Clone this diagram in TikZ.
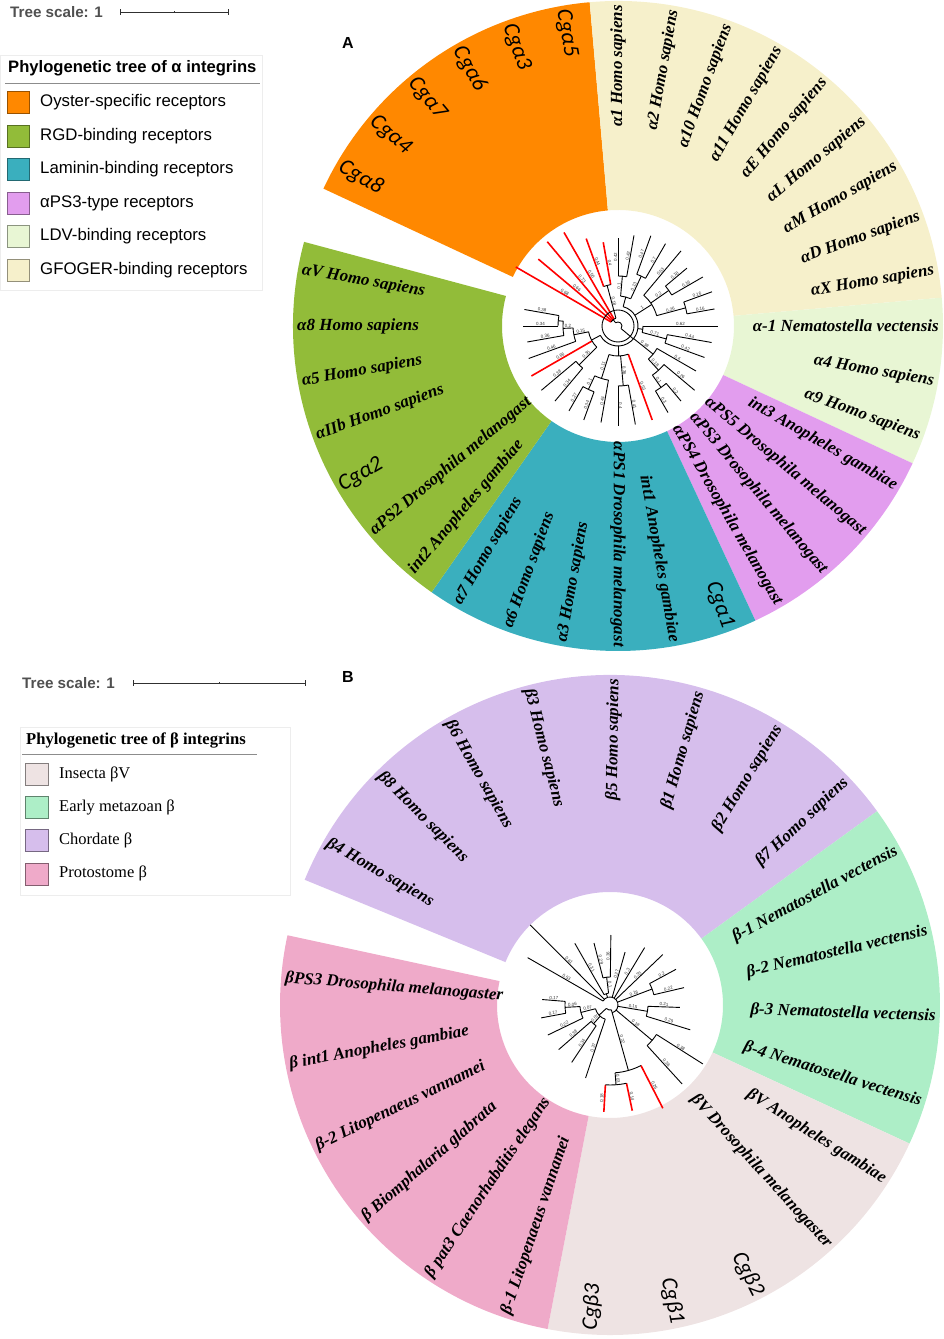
\documentclass[tikz,border=0pt]{standalone}
\usepackage{fontspec}
\setmainfont{Liberation Serif}
\newfontfamily\sansfont{Liberation Sans}
\newfontfamily\cgfont{Carlito}
\usetikzlibrary{positioning}

\definecolor{oyster}{RGB}{255,136,0}
\definecolor{rgd}{RGB}{146,188,57}
\definecolor{laminin}{RGB}{58,175,190}
\definecolor{psthree}{RGB}{226,157,238}
\definecolor{ldv}{RGB}{232,246,212}
\definecolor{gfoger}{RGB}{246,240,203}
\definecolor{insecta}{RGB}{238,227,227}
\definecolor{earlymz}{RGB}{173,238,199}
\definecolor{chordate}{RGB}{214,190,236}
\definecolor{protost}{RGB}{239,170,201}
\definecolor{scalegray}{RGB}{80,80,80}

\tikzset{
leaflab/.style={inner sep=0pt, font=\bfseries\itshape\fontsize{17}{18}\selectfont},
cglab/.style={inner sep=0pt, font=\cgfont\itshape\fontsize{22.5}{24}\selectfont},
br/.style={line width=0.9pt, black},
cgbr/.style={line width=1.6pt, red},
bval/.style={font=\sansfont\fontsize{4.5}{5}\selectfont, inner sep=0.4pt, text=black!80},
swatch/.style={minimum width=22pt, minimum height=22pt, inner sep=0pt, line width=0.6pt},
legsans/.style={anchor=west, inner sep=0pt, font=\sansfont\fontsize{16.8}{18}\selectfont},
legserif/.style={anchor=west, inner sep=0pt, font=\fontsize{16.5}{18}\selectfont},
scaletext/.style={anchor=west, inner sep=0pt, text=scalegray, font=\sansfont\bfseries\fontsize{15.2}{16}\selectfont},
panel/.style={inner sep=0pt, font=\sansfont\bfseries\fontsize{16}{18}\selectfont}
}

% annular sector: colour, start angle, end angle, inner radius, outer radius
\newcommand{\ringsector}[5]{%
\fill[#1] (#2:#4) arc[start angle=#2, end angle=#3, radius=#4] -- (#3:#5)
  arc[start angle=#3, end angle=#2, radius=#5] -- cycle;}

\begin{document}
\begin{tikzpicture}[x=1pt, y=1pt]
\useasboundingbox (0,0) rectangle (943,1339);
\clip (0,0) rectangle (943,1339);

%%% panel A
\node[scaletext] (tsa) at (10,1327) {Tree scale: 1};
\coordinate (sa0) at (120,1327);
\coordinate (sa1) at (228,1327);
\coordinate (sam) at (174,1327);
\draw[scalegray!60!black, line width=0.8pt] (sa0) -- (sa1);
\draw[scalegray!60!black, line width=0.8pt] ([yshift=-3]sa0) -- ([yshift=3]sa0);
\draw[scalegray!60!black, line width=0.8pt] ([yshift=-3]sa1) -- ([yshift=3]sa1);
\draw[scalegray!60!black, line width=0.6pt] ([yshift=-1]sam) -- ([yshift=1]sam);

\draw[black!7, fill=white] (0,1049) rectangle (262,1284);
\node[anchor=west, inner sep=0pt, font=\sansfont\bfseries\fontsize{16.6}{18}\selectfont] (lta) at (8,1271) {Phylogenetic tree of α integrins};
\draw[black!45, line width=0.6pt] (5,1256) -- (260,1256);
\foreach \c/\t [count=\i from 0] in {oyster/Oyster-specific receptors, rgd/RGD-binding receptors,
  laminin/Laminin-binding receptors, psthree/αPS3-type receptors,
  ldv/LDV-binding receptors, gfoger/GFOGER-binding receptors} {
  \node[swatch, fill=\c, draw=\c!60!black] (swa\i) at (18,1236.5-33.5*\i) {};
  \node[legsans] (lga\i) at (40,1236.5-33.5*\i) {\t};
}
\node[panel] (pa) at (348,1296) {A};

\begin{scope}[shift={(618,1013)}]
\ringsector{oyster}{95}{155}{116}{325}
\ringsector{gfoger}{5}{95}{116}{325}
\ringsector{ldv}{-25}{5}{116}{325}
\ringsector{psthree}{-65}{-25}{116}{325}
\ringsector{laminin}{-125}{-65}{116}{325}
\ringsector{rgd}{-195}{-125}{116}{325}

% leaf labels, 10 degrees apart
\foreach \nm/\st [count=\i from 0] in {Cgα8/cglab, Cgα4/cglab, Cgα7/cglab, Cgα6/cglab, Cgα3/cglab, Cgα5/cglab,
  α1 Homo sapiens/leaflab, α2 Homo sapiens/leaflab, α10 Homo sapiens/leaflab, α11 Homo sapiens/leaflab,
  αE Homo sapiens/leaflab, αL Homo sapiens/leaflab, αM Homo sapiens/leaflab, αD Homo sapiens/leaflab,
  αX Homo sapiens/leaflab, α-1 Nematostella vectensis/leaflab, α4 Homo sapiens/leaflab, α9 Homo sapiens/leaflab,
  int3 Anopheles gambiae/leaflab, αPS5 Drosophila melanogast/leaflab, αPS3 Drosophila melanogast/leaflab,
  αPS4 Drosophila melanogast/leaflab, Cgα1/cglab, int1 Anopheles gambiae/leaflab,
  αPS1 Drosophila melanogast/leaflab, α3 Homo sapiens/leaflab, α6 Homo sapiens/leaflab, α7 Homo sapiens/leaflab,
  int2 Anopheles gambiae/leaflab, αPS2 Drosophila melanogast/leaflab, Cgα2/cglab, αIIb Homo sapiens/leaflab,
  α5 Homo sapiens/leaflab, α8 Homo sapiens/leaflab, αV Homo sapiens/leaflab} {
  \pgfmathsetmacro{\ang}{150-10*\i}
  \pgfmathtruncatemacro{\side}{(\ang<90.5)&&(\ang>-90.5)}
  \ifnum\side=1
    \node[\st, anchor=east, rotate=\ang] (la\i) at (\ang:321) {\nm};
  \else
    \node[\st, anchor=west, rotate=\ang+180] (la\i) at (\ang:321) {\nm};
  \fi
}

% tree A: terminal branches
\foreach \a/\ra/\rb/\v/\s in {150/8/118/0.68/cgbr, 140/8/104/0.66/cgbr, 130/8/110/0.73/cgbr,
  120/8/108/0.56/cgbr, 110/42/93/0.44/cgbr, 100/42/85/0.4/cgbr,
  90/50/88/0.42/br, 80/50/92/0.42/br, 70/55/96/0.47/br, 60/55/95/0.7/br, 50/40/98/0.53/br,
  40/62/90/0.18/br, 30/62/98/0.16/br, 20/70/100/0.16/br, 10/70/98/0.16/br,
  0/25/100/0.62/br, -10/50/95/0.44/br, -20/50/92/0.42/br,
  -30/45/90/0.4/br, -40/60/100/0.26/br, -50/75/98/0.2/br, -60/75/100/0.3/br,
  -70/30/100/0.53/cgbr, -80/60/100/0.41/br, -90/60/100/0.4/br, -100/55/98/0.44/br,
  -110/70/100/0.34/br, -120/70/98/0.27/br,
  -130/55/98/0.34/br, -140/55/100/0.38/br, -150/30/100/0.66/cgbr, -160/45/95/0.46/br,
  -170/55/92/0.36/br, -180/60/95/0.34/br, -190/60/95/0.38/br} {
  \draw[\s] (\a:\ra) -- (\a:\rb) node[midway, sloped, above, bval] {\v};
}
% tree A: inner stems
\foreach \a/\ra/\rb/\v in {105/8/42/0.18, 85/30/50/0.1, 65/30/55/0.13, 75/20/30/, 35/40/62/0.2,
  15/40/70/0.26, 32.5/20/40/1, -15/25/50/0.71, -7.5/20/25/, -55/60/75/0.1, -47.5/45/60/0.18,
  -38.75/20/45/0.38, -85/30/60/0.36, -115/55/70/0.1, -107.5/30/55/0.11, -88.75/20/30/,
  -135/30/55/0.35, -185/55/60/, -177.5/45/55/0.2, -168.75/30/45/0.15, -152/20/30/,
  127/4/8/, -40/4/20/} {
  \draw[br] (\a:\ra) -- (\a:\rb) node[midway, sloped, above, bval] {\v};
}
% tree A: arcs
\foreach \a/\b/\r in {105/150/8, 100/110/42, 80/90/50, 60/70/55, 65/85/30, 30/40/62, 10/20/70,
  15/50/40, -152/75/20, -15/0/25, -20/-10/50, -60/-50/75, -55/-40/60, -47.5/-30/45,
  -90/-80/60, -120/-110/70, -115/-100/55, -107.5/-70/30, -140/-130/55, -190/-180/60,
  -185/-170/55, -177.5/-160/45, -168.75/-135/30, -40/127/4} {
  \draw[br] (\a:\r) arc[start angle=\a, end angle=\b, radius=\r];
}
\draw[br] (0,0) circle[radius=16];
\end{scope}

%%% panel B
\node[scaletext] (tsb) at (22,656) {Tree scale: 1};
\coordinate (sb0) at (133,656);
\coordinate (sb1) at (305,656);
\coordinate (sbm) at (219,656);
\draw[scalegray!60!black, line width=0.8pt] (sb0) -- (sb1);
\draw[scalegray!60!black, line width=0.8pt] ([yshift=-3]sb0) -- ([yshift=3]sb0);
\draw[scalegray!60!black, line width=0.8pt] ([yshift=-3]sb1) -- ([yshift=3]sb1);
\draw[scalegray!60!black, line width=0.6pt] ([yshift=-1]sbm) -- ([yshift=1]sbm);

\draw[black!7, fill=white] (20,444) rectangle (290,612);
\node[anchor=west, inner sep=0pt, font=\bfseries\fontsize{16.6}{18}\selectfont] (ltb) at (26,599) {Phylogenetic tree of β integrins};
\draw[black!45, line width=0.6pt] (22,585) -- (257,585);
\foreach \c/\t [count=\i from 0] in {insecta/Insecta βV, earlymz/Early metazoan β,
  chordate/Chordate β, protost/Protostome β} {
  \node[swatch, minimum width=23pt, fill=\c, draw=\c!55!black] (swb\i) at (36.5,565-33.3*\i) {};
  \node[legserif] (lgb\i) at (59,565-33.3*\i) {\t};
}
\node[panel] (pb) at (348,662) {B};

\begin{scope}[shift={(610,334)}]
\ringsector{chordate}{35.97}{157.7}{113}{330}
\ringsector{earlymz}{-24.83}{35.97}{113}{330}
\ringsector{insecta}{-100.9}{-24.83}{113}{330}
\ringsector{protost}{-192.2}{-100.9}{113}{330}

\foreach \nm/\st [count=\i from 0] in {β4 Homo sapiens/leaflab, β8 Homo sapiens/leaflab,
  β6 Homo sapiens/leaflab, β3 Homo sapiens/leaflab, β5 Homo sapiens/leaflab, β1 Homo sapiens/leaflab,
  β2 Homo sapiens/leaflab, β7 Homo sapiens/leaflab, β-1 Nematostella vectensis/leaflab,
  β-2 Nematostella vectensis/leaflab, β-3 Nematostella vectensis/leaflab, β-4 Nematostella vectensis/leaflab,
  βV Anopheles gambiae/leaflab, βV Drosophila melanogaster/leaflab, Cgβ2/cglab, Cgβ1/cglab, Cgβ3/cglab,
  β-1 Litopenaeus vannamei/leaflab, β pat3 Caenorhabditis elegans/leaflab, β Biomphalaria glabrata/leaflab,
  β-2 Litopenaeus vannamei/leaflab, β int1 Anopheles gambiae/leaflab, βPS3 Drosophila melanogaster/leaflab} {
  \pgfmathsetmacro{\ang}{150.1-15.2174*\i}
  \pgfmathtruncatemacro{\side}{(\ang<90.5)&&(\ang>-90.5)}
  \ifnum\side=1
    \node[\st, anchor=east, rotate=\ang] (lb\i) at (\ang:326) {\nm};
  \else
    \node[\st, anchor=west, rotate=\ang+180] (lb\i) at (\ang:326) {\nm};
  \fi
}

% tree B: terminal branches
\foreach \a/\ra/\rb/\v/\s in {150.1/8/95/0.53/br, 134.9/8/113/0.61/br, 119.7/12/71/0.31/br,
  104.5/28/64/0.29/br, 89.3/28/70/0.36/br, 74.1/8/55/0.27/br, 58.9/8/67/0.3/br, 43.7/8/73/0.33/br,
  28.4/45/75/0.2/br, 13.2/45/76/0.22/br, -2.0/38/70/0.21/br, -17.2/38/84/0.29/br,
  -32.4/55/110/0.38/br, -47.6/55/107/0.36/br, -62.9/68/116/0.26/cgbr, -78.1/80/108/0.14/cgbr,
  -93.3/80/107/0.18/cgbr, -108.5/15/77/0.37/br, -123.7/25/69/0.34/br, -139.0/25/68/0.38/br,
  -154.2/30/69/0.22/br, -169.4/45/70/0.17/br, -184.6/45/68/0.17/br} {
  \draw[\s] (\a:\ra) -- (\a:\rb) node[midway, sloped, above, bval] {\v};
}
% tree B: inner stems
\foreach \a/\ra/\rb/\v in {96.9/12/28/0.1, 108/8/12/, 20.8/8/45/0.18, -9.6/8/38/0.15, -40/8/55/0.18,
  -74.3/5/68/0.22, -85.7/68/80/0.03, -131.3/15/25/0.07, -177/30/45/0.06, -165.6/15/30/0.07,
  -137/5/15/} {
  \draw[br] (\a:\ra) -- (\a:\rb) node[midway, sloped, above, bval] {\v};
}
% tree B: arcs
\foreach \a/\b/\r in {89.3/104.5/28, 96.9/119.7/12, -74.3/150.1/8, 13.2/28.4/45, -17.2/-2.0/38,
  -47.6/-32.4/55, -93.3/-78.1/80, -85.7/-62.9/68, -139.0/-123.7/25, -184.6/-169.4/45,
  -177/-154.2/30, -165.6/-108.5/15, -137/-74.3/5} {
  \draw[br] (\a:\r) arc[start angle=\a, end angle=\b, radius=\r];
}
\end{scope}
\end{tikzpicture}
\end{document}
